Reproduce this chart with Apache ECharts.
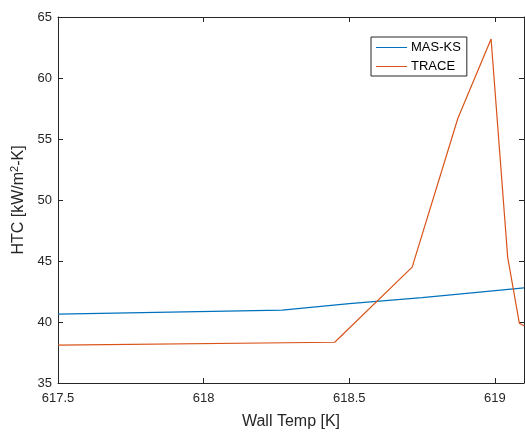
<!DOCTYPE html>
<html>
<head>
<meta charset="utf-8">
<script src="https://cdn.jsdelivr.net/npm/echarts@6/dist/echarts.min.js"></script>
<style>
  html, body { margin: 0; padding: 0; background: #fff; }
  #chart { width: 525px; height: 435px; }
</style>
</head>
<body>
<div id="chart"></div>
<script>
// data
var masX = [617.5, 618.27, 618.5, 618.75, 619.1];
var masY = [40.65, 40.97, 41.5, 42.0, 42.8];
var traceX = [617.5, 618.45, 618.716, 618.873, 618.987, 619.044, 619.084, 619.1];
var traceY = [38.1, 38.34, 44.5, 56.7, 63.2, 45.3, 39.9, 39.7];
var seriesNames = ['MAS-KS', 'TRACE'];

function pairs(xs, ys) {
    var out = [];
    for (var i = 0; i < xs.length; i++) out.push([xs[i], ys[i]]);
    return out;
}

var axisColor = '#262626';
var font = 'Liberation Sans, Arial, sans-serif';

var option = {
    animation: false,
    color: ['#0072BD', '#D95319'],
    grid: { left: 58, top: 17, right: 1, bottom: 49, containLabel: false },
    legend: {
        orient: 'vertical',
        left: 371, top: 37,
        itemWidth: 31, itemHeight: 1, itemGap: 6,
        padding: [4, 6, 3, 5],
        borderColor: axisColor, borderWidth: 1,
        backgroundColor: '#fff',
        icon: 'rect',
        textStyle: { fontFamily: font, fontSize: 13, color: '#000', padding: [0, 0, 0, -1] },
        data: seriesNames
    },
    xAxis: [{
        type: 'value', min: 617.5, max: 619.1, interval: 0.5,
        name: 'Wall Temp [K]', nameLocation: 'middle', nameGap: 31,
        nameTextStyle: { fontFamily: font, fontSize: 16, color: axisColor },
        axisLine: { lineStyle: { color: axisColor, width: 1 } },
        axisTick: { inside: true, length: 5, lineStyle: { color: axisColor } },
        axisLabel: { fontFamily: font, fontSize: 13, color: axisColor, margin: 9, showMaxLabel: false },
        splitLine: { show: false }
    }, {
        type: 'value', position: 'top', min: 617.5, max: 619.1, interval: 0.5,
        axisLine: { show: true, lineStyle: { color: axisColor, width: 1 } },
        axisTick: { show: true, inside: true, length: 5, lineStyle: { color: axisColor } },
        axisLabel: { show: false },
        splitLine: { show: false }
    }],
    yAxis: [{
        type: 'value', min: 35, max: 65, interval: 5,
        name: 'HTC [kW/m{sup|2}-K]', nameLocation: 'middle', nameGap: 28, nameRotate: 90,
        nameTextStyle: {
            fontFamily: font, fontSize: 16, color: axisColor,
            rich: { sup: { fontFamily: font, fontSize: 11, color: axisColor, verticalAlign: 'top', padding: [0, 0, 8, 0] } }
        },
        axisLine: { show: true, lineStyle: { color: axisColor, width: 1 } },
        axisTick: { show: true, inside: true, length: 5, lineStyle: { color: axisColor } },
        axisLabel: { fontFamily: font, fontSize: 13, color: axisColor, margin: 6 },
        splitLine: { show: false }
    }, {
        type: 'value', position: 'right', min: 35, max: 65, interval: 5,
        axisLine: { show: true, lineStyle: { color: axisColor, width: 1 } },
        axisTick: { show: true, inside: true, length: 5, lineStyle: { color: axisColor } },
        axisLabel: { show: false },
        splitLine: { show: false }
    }],
    series: [{
        name: seriesNames[0], type: 'line', showSymbol: false, symbol: 'none',
        lineStyle: { width: 1.2 }, clip: true,
        data: pairs(masX, masY)
    }, {
        name: seriesNames[1], type: 'line', showSymbol: false, symbol: 'none',
        lineStyle: { width: 1.2 }, clip: true,
        data: pairs(traceX, traceY)
    }]
};

var myChart = echarts.init(document.getElementById('chart'));
myChart.setOption(option);
</script>
</body>
</html>
